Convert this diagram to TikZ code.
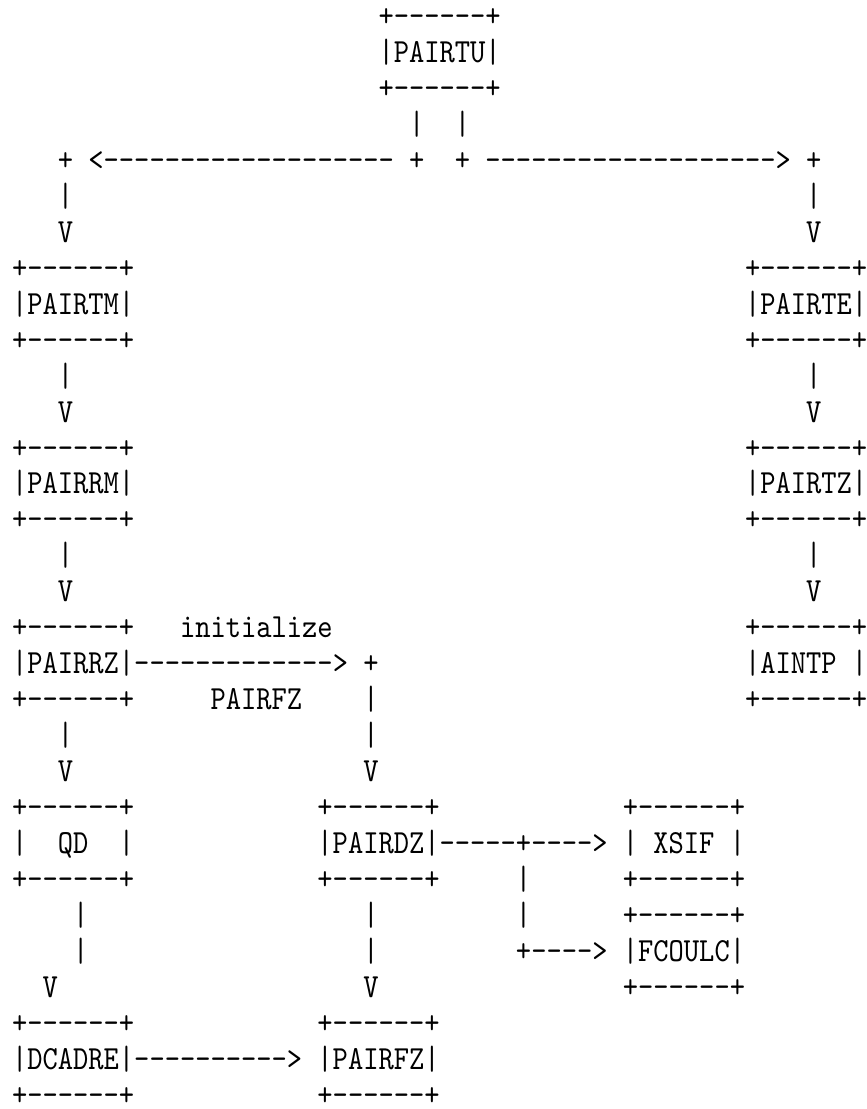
\documentclass[tikz,border=0pt]{standalone}
\usepackage{fontspec}
\usepackage{graphicx}
\setmonofont{lmmono10-regular.otf}
\def\xl{12.07}
\def\cw{15.27}
\def\bz{26.6}
\def\pp{35.95}
\newcommand\sy[1]{\scalebox{1}[1.16]{#1}}
\tikzset{
  txt/.style={anchor=base west, inner sep=0pt, outer sep=0pt,
    font=\ttfamily\fontsize{29.09pt}{31pt}\selectfont}
}
% ascii text at column, row
\newcommand\ch[4]{\node[txt] (#1) at ({\xl+#2*\cw},{-(\bz+#3*\pp)}) {\sy{#4}};}
% ascii box: name, column, bottom row, label line
\newcommand\abox[4]{\node[txt] (#1) at ({\xl+#2*\cw},{-(\bz+#3*\pp)})
  {\sy{\vbox{\baselineskip=30.99pt\lineskiplimit=-100pt\lineskip=0pt
   \hbox{+------+}\hbox{#4}\hbox{+------+}}}};}
\begin{document}
\begin{tikzpicture}[x=1pt,y=1pt]
\fill[white] (0,0) rectangle (867,-1109);
\useasboundingbox (0,0) rectangle (867,-1109);
% boxes
\abox{tu}{24}{2}{|PAIRTU|}
\abox{tm}{0}{9}{|PAIRTM|}
\abox{te}{48}{9}{|PAIRTE|}
\abox{rm}{0}{14}{|PAIRRM|}
\abox{tz}{48}{14}{|PAIRTZ|}
\abox{rz}{0}{19}{|PAIRRZ|}
\abox{ai}{48}{19}{|AINTP~|}
\abox{qd}{0}{24}{|~~QD~~|}
\abox{dz}{20}{24}{|PAIRDZ|}
\abox{xs}{40}{24}{|~XSIF~|}
\abox{fc}{40}{27}{|FCOULC|}
\abox{dc}{0}{30}{|DCADRE|}
\abox{fz}{20}{30}{|PAIRFZ|}
% connectors from PAIRTU
\ch{u1}{26}{3}{|}
\ch{u2}{29}{3}{|}
\ch{ul}{3}{4}{+~<-------------------~+}
\ch{ur}{29}{4}{+~------------------->~+}
\ch{l5}{3}{5}{|}
\ch{l6}{3}{6}{V}
\ch{r5}{52}{5}{|}
\ch{r6}{52}{6}{V}
% left chain
\ch{l10}{3}{10}{|}
\ch{l11}{3}{11}{V}
\ch{l15}{3}{15}{|}
\ch{l16}{3}{16}{V}
\ch{l20}{3}{20}{|}
\ch{l21}{3}{21}{V}
\ch{l25}{4}{25}{|}
\ch{l26}{4}{26}{|}
\ch{l27}{2}{27}{V}
% right chain
\ch{r10}{52}{10}{|}
\ch{r11}{52}{11}{V}
\ch{r15}{52}{15}{|}
\ch{r16}{52}{16}{V}
% PAIRRZ -> PAIRDZ
\ch{ini}{11}{17}{initialize}
\ch{m18}{8}{18}{------------->~+}
\ch{lab}{13}{19}{PAIRFZ}
\ch{m19}{23}{19}{|}
\ch{m20}{23}{20}{|}
\ch{m21}{23}{21}{V}
% PAIRDZ -> XSIF, FCOULC
\ch{d23}{28}{23}{-----+---->}
\ch{d24}{33}{24}{|}
\ch{d25}{33}{25}{|}
\ch{d26}{33}{26}{+---->}
% PAIRDZ -> PAIRFZ
\ch{z25}{23}{25}{|}
\ch{z26}{23}{26}{|}
\ch{z27}{23}{27}{V}
% DCADRE -> PAIRFZ
\ch{b29}{8}{29}{---------->}
\end{tikzpicture}
\end{document}
